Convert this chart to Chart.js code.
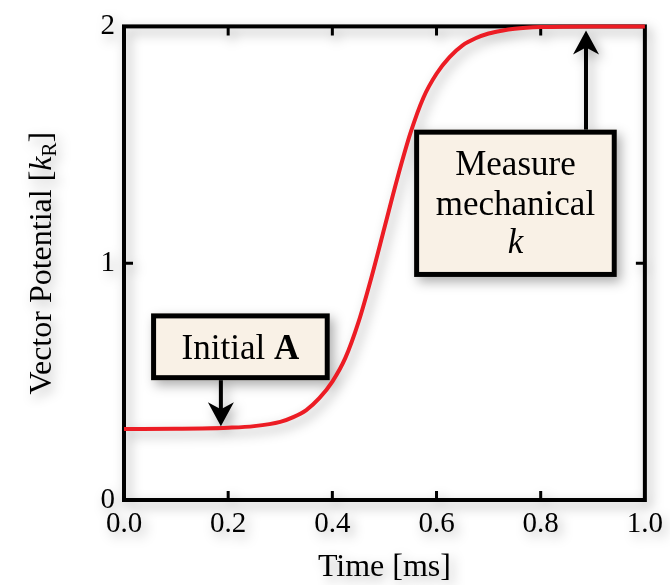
<!DOCTYPE html>
<html>
<head>
<meta charset="utf-8">
<script src="https://cdn.jsdelivr.net/npm/chart.js@4.4.1/dist/chart.umd.min.js"></script>
<style>
  html, body { margin: 0; padding: 0; background: #fff; }
  #wrap { width: 670px; height: 585px; }
  canvas { filter: drop-shadow(4px 5px 6px rgba(0, 0, 0, 0.32)); }
</style>
</head>
<body>
<div id="wrap"><canvas id="potentialChart" width="670" height="585"></canvas></div>
<script>
// Vector potential ramp over one millisecond
const timeMs = [0, 0.1, 0.15, 0.2, 0.25, 0.3, 0.325, 0.35, 0.375, 0.4, 0.425, 0.45, 0.475, 0.5,
                0.525, 0.55, 0.575, 0.6, 0.625, 0.65, 0.675, 0.7, 0.725, 0.75, 0.8, 0.9, 1.0];
const potential = [0.300, 0.301, 0.302, 0.305, 0.312, 0.33, 0.35, 0.38, 0.43, 0.50, 0.60, 0.75, 0.94, 1.15,
                   1.36, 1.55, 1.70, 1.80, 1.87, 1.92, 1.95, 1.97, 1.982, 1.99, 1.997, 2.00, 2.00];
const xTicks = [0, 0.2, 0.4, 0.6, 0.8, 1.0];
const yTicks = [0, 1, 2];

const SERIF = '"Liberation Serif", "Times New Roman", serif';
const TICK_SIZE = 29;
const TITLE_SIZE = 32;
const NOTE_SIZE = 35;

// callout boxes, in data units
const initialNote = { x0: 0.052, x1: 0.395, y0: 0.788, y1: 0.506, arrowX: 0.186, arrowTo: 0.311 };
const measureNote = { x0: 0.557, x1: 0.946, y0: 1.564, y1: 0.942, arrowX: 0.887, arrowTo: 1.983 };

function drawArrowHead(ctx, x, tipY, dir) {
  // dir = 1 points down, -1 points up
  const len = 24, half = 13, notch = 7;
  ctx.fillStyle = '#000';
  ctx.beginPath();
  ctx.moveTo(x, tipY);
  ctx.lineTo(x - half, tipY - dir * len);
  ctx.lineTo(x, tipY - dir * (len - notch));
  ctx.lineTo(x + half, tipY - dir * len);
  ctx.closePath();
  ctx.fill();
}

function drawBox(ctx, x0, y0, x1, y1) {
  ctx.fillStyle = '#f9f1e6';
  ctx.fillRect(x0, y0, x1 - x0, y1 - y0);
  ctx.lineWidth = 5;
  ctx.strokeStyle = '#000';
  ctx.strokeRect(x0 + 2.5, y0 + 2.5, x1 - x0 - 5, y1 - y0 - 5);
  ctx.fillStyle = '#000';
}

const framePlugin = {
  id: 'frame',
  beforeDatasetsDraw(chart) {
    const { ctx, chartArea: a, scales: { x, y } } = chart;
    ctx.save();
    ctx.strokeStyle = '#000';
    ctx.lineWidth = 4;
    ctx.strokeRect(a.left, a.top, a.right - a.left, a.bottom - a.top);
    ctx.lineWidth = 3;
    const tick = 9;
    ctx.beginPath();
    xTicks.slice(1, -1).forEach(v => {
      const px = x.getPixelForValue(v);
      ctx.moveTo(px, a.bottom); ctx.lineTo(px, a.bottom - tick);
      ctx.moveTo(px, a.top); ctx.lineTo(px, a.top + tick);
    });
    yTicks.slice(1, -1).forEach(v => {
      const py = y.getPixelForValue(v);
      ctx.moveTo(a.left, py); ctx.lineTo(a.left + tick, py);
      ctx.moveTo(a.right, py); ctx.lineTo(a.right - tick, py);
    });
    ctx.stroke();
    ctx.restore();
  },
  afterDatasetsDraw(chart) {
    const { ctx, chartArea: a, scales: { x, y } } = chart;
    ctx.save();
    ctx.strokeStyle = '#000';

    // Initial A callout
    let bx0 = x.getPixelForValue(initialNote.x0), bx1 = x.getPixelForValue(initialNote.x1);
    let by0 = y.getPixelForValue(initialNote.y0), by1 = y.getPixelForValue(initialNote.y1);
    drawBox(ctx, bx0, by0, bx1, by1);
    let ax = x.getPixelForValue(initialNote.arrowX);
    let tip = y.getPixelForValue(initialNote.arrowTo);
    ctx.lineWidth = 4;
    ctx.beginPath();
    ctx.moveTo(ax, by1);
    ctx.lineTo(ax, tip - 12);
    ctx.stroke();
    drawArrowHead(ctx, ax, tip, 1);

    ctx.textBaseline = 'alphabetic';
    ctx.textAlign = 'left';
    const part1 = 'Initial ';
    ctx.font = `bold ${NOTE_SIZE}px ${SERIF}`;
    const wA = ctx.measureText('A').width;
    ctx.font = `${NOTE_SIZE}px ${SERIF}`;
    const w1 = ctx.measureText(part1).width;
    const cx = (bx0 + bx1) / 2 - (w1 + wA) / 2;
    const base1 = (by0 + by1) / 2 + 12;
    ctx.fillText(part1, cx, base1);
    ctx.font = `bold ${NOTE_SIZE}px ${SERIF}`;
    ctx.fillText('A', cx + w1, base1);

    // Measure mechanical k callout
    bx0 = x.getPixelForValue(measureNote.x0); bx1 = x.getPixelForValue(measureNote.x1);
    by0 = y.getPixelForValue(measureNote.y0); by1 = y.getPixelForValue(measureNote.y1);
    drawBox(ctx, bx0, by0, bx1, by1);
    ax = x.getPixelForValue(measureNote.arrowX);
    tip = y.getPixelForValue(measureNote.arrowTo);
    ctx.lineWidth = 4;
    ctx.beginPath();
    ctx.moveTo(ax, by0);
    ctx.lineTo(ax, tip + 12);
    ctx.stroke();
    drawArrowHead(ctx, ax, tip, -1);

    const mid = (bx0 + bx1) / 2;
    const cy = (by0 + by1) / 2;
    ctx.textAlign = 'center';
    ctx.font = `${NOTE_SIZE}px ${SERIF}`;
    ctx.fillText('Measure', mid, cy - 28);
    ctx.fillText('mechanical', mid, cy + 12);
    ctx.font = `italic ${NOTE_SIZE}px ${SERIF}`;
    ctx.fillText('k', mid, cy + 50);

    // axis titles
    ctx.font = `${TITLE_SIZE}px ${SERIF}`;
    ctx.textAlign = 'center';
    ctx.textBaseline = 'middle';
    ctx.fillText('Time [ms]', (a.left + a.right) / 2, 568);

    ctx.translate(40, (a.top + a.bottom) / 2);
    ctx.rotate(-Math.PI / 2);
    const pre = 'Vector Potential [';
    const subSize = Math.round(TITLE_SIZE * 0.66);
    ctx.font = `${TITLE_SIZE}px ${SERIF}`;
    const wPre = ctx.measureText(pre).width;
    const wClose = ctx.measureText(']').width;
    ctx.font = `italic ${TITLE_SIZE}px ${SERIF}`;
    const wK = ctx.measureText('k').width;
    ctx.font = `${subSize}px ${SERIF}`;
    const wR = ctx.measureText('R').width;
    let tx = -(wPre + wK + wR + wClose) / 2;
    ctx.textAlign = 'left';
    ctx.textBaseline = 'alphabetic';
    const tb = 11;
    ctx.font = `${TITLE_SIZE}px ${SERIF}`;
    ctx.fillText(pre, tx, tb); tx += wPre;
    ctx.font = `italic ${TITLE_SIZE}px ${SERIF}`;
    ctx.fillText('k', tx, tb); tx += wK;
    ctx.font = `${subSize}px ${SERIF}`;
    ctx.fillText('R', tx, tb + 5); tx += wR;
    ctx.font = `${TITLE_SIZE}px ${SERIF}`;
    ctx.fillText(']', tx, tb);

    ctx.restore();
  }
};

new Chart(document.getElementById('potentialChart').getContext('2d'), {
  type: 'line',
  data: {
    datasets: [{
      data: timeMs.map((t, i) => ({ x: t, y: potential[i] })),
      borderColor: '#ec1c24',
      borderWidth: 4,
      pointRadius: 0,
      cubicInterpolationMode: 'monotone',
      clip: 6,
      fill: false
    }]
  },
  options: {
    responsive: false,
    devicePixelRatio: 1,
    animation: false,
    layout: { padding: { top: 18, right: 24, left: 0, bottom: 0 } },
    plugins: { legend: { display: false }, tooltip: { enabled: false } },
    scales: {
      x: {
        type: 'linear',
        min: 0,
        max: 1,
        afterBuildTicks: s => { s.ticks = xTicks.map(v => ({ value: v })); },
        afterFit: s => { s.height = 85; },
        grid: { display: false, drawTicks: false },
        border: { display: false },
        ticks: {
          padding: 7,
          color: '#000',
          maxRotation: 0,
          font: { family: SERIF, size: TICK_SIZE },
          callback: v => v.toFixed(1)
        }
      },
      y: {
        type: 'linear',
        min: 0,
        max: 2,
        afterBuildTicks: s => { s.ticks = yTicks.map(v => ({ value: v })); },
        afterFit: s => { s.width = 124; },
        grid: { display: false, drawTicks: false },
        border: { display: false },
        ticks: {
          padding: 9,
          color: '#000',
          font: { family: SERIF, size: TICK_SIZE },
          callback: v => String(v)
        }
      }
    }
  },
  plugins: [framePlugin]
});
</script>
</body>
</html>
